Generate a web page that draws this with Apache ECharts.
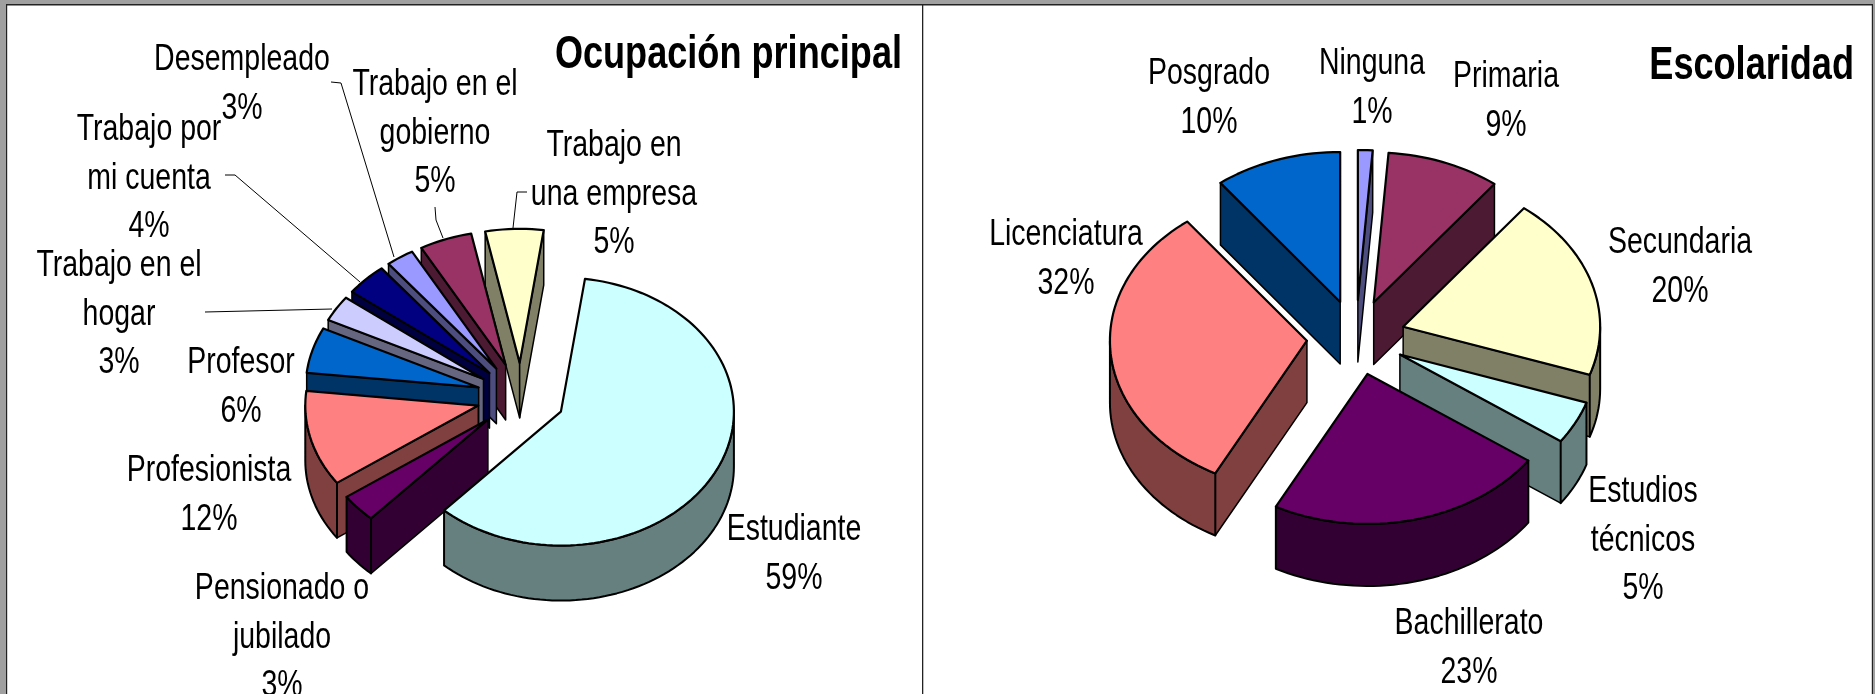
<!DOCTYPE html>
<html>
<head>
<meta charset="utf-8">
<title>Ocupación principal / Escolaridad</title>
<script src="https://cdn.jsdelivr.net/npm/echarts@6/dist/echarts.min.js"></script>
<style>
  html, body { margin: 0; padding: 0; background: #fff; }
  #chart { width: 1875px; height: 694px; }
</style>
</head>
<body>
<div id="chart"></div>
<script>
// Ocupacion principal
var ocupacionNames = ["Estudiante", "Pensionado o\njubilado", "Profesionista", "Profesor", "Trabajo en el\nhogar", "Trabajo por\nmi cuenta", "Desempleado", "Trabajo en el\ngobierno", "Trabajo en\nuna empresa"];
var ocupacionValues = [59.4, 3.4, 11.5, 5.5, 3.1, 3.9, 2.6, 4.9, 5.4];
var ocupacionColors = ["#ccffff", "#660066", "#ff8080", "#0066cc", "#ccccff", "#000080", "#9999ff", "#993366", "#ffffcc"];

// Escolaridad
var escolaridadNames = ["Ninguna", "Primaria", "Secundaria", "Estudios\ntécnicos", "Bachillerato", "Licenciatura", "Posgrado"];
var escolaridadValues = [1.2, 9.3, 19.7, 4.6, 22.9, 31.9, 10.4];
var escolaridadColors = ["#9999ff", "#993366", "#ffffcc", "#ccffff", "#660066", "#ff8080", "#0066cc"];

var FONT = '"Liberation Sans", Arial, sans-serif';
var LABEL_SIZE = 37, LABEL_SCALE = 0.77, LINE_GAP = 48.5;

// pie layout in pixels, label positions follow the data order
var leftPie = {
    cx: 521, cy: 397, rx: 173, ry: 134, depth: 55, explode: 0.255, start: 8,
    title: "Ocupación principal", titleX: 902, titleY: 55,
    labels: [[794, 530], [282, 589], [209, 471], [241, 363], [119, 266], [149, 130], [242, 60], [435, 85], [614, 146]],
    leaders: [
        [[205, 312], [332, 309]],
        [[225, 175], [235, 175], [360, 282]],
        [[331, 82], [341, 83], [394, 257]],
        [[435, 207], [436, 220], [443, 238]],
        [[527, 192], [517, 192], [513, 228]]
    ]
};
var rightPie = {
    cx: 1356, cy: 337.5, rx: 197, ry: 150, depth: 62, explode: 0.25, start: 0,
    title: "Escolaridad", titleX: 1854, titleY: 66,
    labels: [[1372, 64], [1506, 77], [1680, 243], [1643, 492], [1469, 624], [1066, 235], [1209, 74]],
    leaders: []
};

function shade(hex) {
    // side faces are the top colour at half brightness, like the old office charts
    var n = parseInt(hex.slice(1), 16);
    var r = Math.round((n >> 16) * 0.5), g = Math.round(((n >> 8) & 255) * 0.5), b = Math.round((n & 255) * 0.5);
    return "rgb(" + r + "," + g + "," + b + ")";
}

function pt(pie, apex, deg, drop) {
    var a = deg * Math.PI / 180;
    return [apex[0] + pie.rx * Math.sin(a), apex[1] - pie.ry * Math.cos(a) + (drop || 0)];
}

function arcPts(pie, apex, a0, a1, drop) {
    var pts = [], steps = Math.max(2, Math.ceil((a1 - a0) / 2));
    for (var i = 0; i <= steps; i++) {
        pts.push(pt(pie, apex, a0 + (a1 - a0) * i / steps, drop));
    }
    return pts;
}

function face(points, fill, width) {
    return {
        type: "polygon",
        shape: { points: points },
        style: { fill: fill, stroke: "#000", lineWidth: width, lineJoin: "round" }
    };
}

function sliceFaces(pie, a0, a1, color) {
    var mid = (a0 + a1) / 2;
    var midRad = mid * Math.PI / 180;
    var apex = [
        pie.cx + pie.explode * pie.rx * Math.sin(midRad),
        pie.cy - pie.explode * pie.ry * Math.cos(midRad)
    ];
    var dark = shade(color);
    var kids = [];
    var apexLow = [apex[0], apex[1] + pie.depth];

    // walls first, only those turned to the viewer
    if (Math.sin(a0 * Math.PI / 180) < 0) {
        kids.push(face([apex, pt(pie, apex, a0), pt(pie, apex, a0, pie.depth), apexLow], dark, 1.5));
    }
    if (Math.sin(a1 * Math.PI / 180) > 0) {
        kids.push(face([apex, pt(pie, apex, a1), pt(pie, apex, a1, pie.depth), apexLow], dark, 1.5));
    }
    var from = Math.max(a0, 90), to = Math.min(a1, 270);
    if (to > from) {
        var upper = arcPts(pie, apex, from, to, 0);
        var lower = arcPts(pie, apex, from, to, pie.depth).reverse();
        kids.push(face(upper.concat(lower), dark, 2));
    }
    kids.push(face([apex].concat(arcPts(pie, apex, a0, a1, 0)), color, 2.2));
    return kids;
}

function pieChildren(pie, values, colors) {
    var total = values.reduce(function (s, v) { return s + v; }, 0);
    var angle = pie.start;
    var slices = values.map(function (v, i) {
        var a0 = angle, a1 = angle + v / total * 360;
        angle = a1;
        var mid = (a0 + a1) / 2;
        // back slices first, the one over the front of the pie last
        var key = (a0 < 180 && a1 > 180) ? 9 : -Math.cos(mid * Math.PI / 180);
        return { a0: a0, a1: a1, color: colors[i], key: key };
    });
    slices.sort(function (p, q) { return p.key - q.key; });
    var kids = [];
    slices.forEach(function (s) {
        kids = kids.concat(sliceFaces(pie, s.a0, s.a1, s.color));
    });
    return kids;
}

function labelChildren(pie, names, values) {
    var kids = [];
    pie.leaders.forEach(function (line) {
        kids.push({
            type: "polyline",
            shape: { points: line },
            style: { fill: null, stroke: "#000", lineWidth: 1 }
        });
    });
    names.forEach(function (name, i) {
        var rows = name.split("\n").concat(Math.round(values[i]) + "%");
        rows.forEach(function (row, r) {
            kids.push({
                type: "text",
                x: pie.labels[i][0],
                y: pie.labels[i][1] + r * LINE_GAP,
                scaleX: LABEL_SCALE,
                style: { text: row, font: LABEL_SIZE + "px " + FONT, fill: "#000", align: "center", verticalAlign: "middle" }
            });
        });
    });
    kids.push({
        type: "text",
        x: pie.titleX,
        y: pie.titleY,
        scaleX: 0.785,
        style: { text: pie.title, font: "bold 46px " + FONT, fill: "#000", align: "right", verticalAlign: "middle" }
    });
    return kids;
}

function pieSeries(pie, names, values, colors) {
    return {
        type: "custom",
        coordinateSystem: "none",
        silent: true,
        data: [0],
        renderItem: function () {
            return {
                type: "group",
                children: pieChildren(pie, values, colors).concat(labelChildren(pie, names, values))
            };
        }
    };
}

var myChart = echarts.init(document.getElementById("chart"), null, { renderer: "canvas" });
myChart.setOption({
    animation: false,
    backgroundColor: "#fff",
    graphic: [
        { type: "rect", shape: { x: 0, y: 0, width: 1875, height: 4 }, style: { fill: "#a0a0a0" } },
        { type: "rect", shape: { x: 0, y: 0, width: 6, height: 694 }, style: { fill: "#a0a0a0" } },
        { type: "rect", shape: { x: 1873, y: 0, width: 2, height: 694 }, style: { fill: "#a0a0a0" } },
        { type: "rect", shape: { x: 6, y: 4, width: 1867, height: 1.5 }, style: { fill: "#222" } },
        { type: "rect", shape: { x: 6, y: 4, width: 1.2, height: 690 }, style: { fill: "#222" } },
        { type: "rect", shape: { x: 1871.8, y: 4, width: 1.2, height: 690 }, style: { fill: "#222" } },
        { type: "rect", shape: { x: 922, y: 5, width: 1.3, height: 689 }, style: { fill: "#222" } }
    ],
    series: [
        pieSeries(leftPie, ocupacionNames, ocupacionValues, ocupacionColors),
        pieSeries(rightPie, escolaridadNames, escolaridadValues, escolaridadColors)
    ]
});

window.addEventListener("resize", function () {
    myChart.resize();
});
</script>
</body>
</html>
